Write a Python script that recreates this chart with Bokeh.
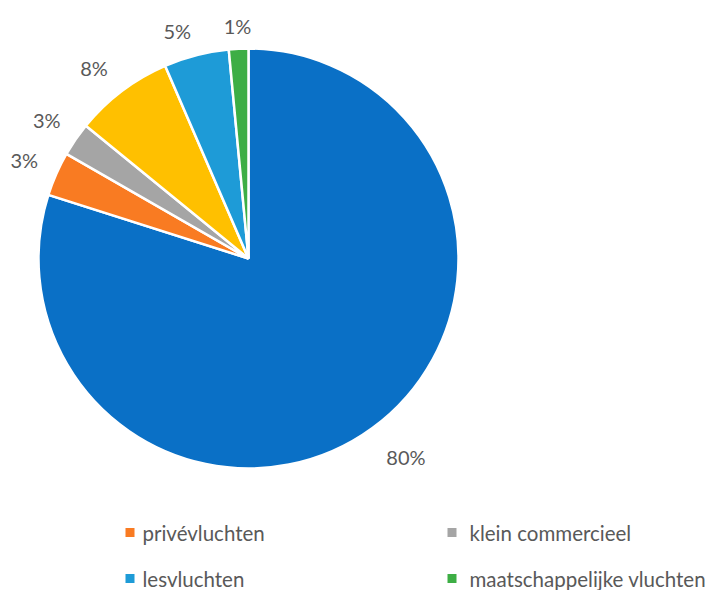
import numpy as np
from bokeh.plotting import figure
from bokeh.models import ColumnDataSource, Range1d
from bokeh.core.properties import value
from bokeh.embed import file_html
from bokeh.resources import INLINE

# ---- data ----
slice_values = [79.9, 3.4, 2.6, 7.6, 5.0, 1.5]
slice_labels = ["80%", "3%", "3%", "8%", "5%", "1%"]
slice_colors = ["#0A70C6", "#F97B22", "#A5A5A5", "#FFC000", "#1E9BD7", "#3DAE45"]
legend_names = ["privévluchten", "klein commercieel", "lesvluchten", "maatschappelijke vluchten"]
legend_colors = ["#F97B22", "#A5A5A5", "#1E9BD7", "#3DAE45"]

# ---- layout ----
W, H = 712, 590
CX, CY, R = 248, 332, 210
LABEL_R = [253, 245, 245, 245, 238, 233]
LABEL_DA = [-2.3, 0, 0, -2.0, -3.0, 0]   # degrees nudge of label placement
FONT = "Lato"
TXT = "#595959"

vals = np.array(slice_values, dtype=float)
frac = vals / vals.sum()
cum_end = np.cumsum(frac)
cum_start = cum_end - frac
theta_s = 2 * np.pi * cum_start
theta_e = 2 * np.pi * cum_end
theta_m = (theta_s + theta_e) / 2 + np.radians(LABEL_DA)
lr = np.array(LABEL_R, dtype=float)

src = ColumnDataSource(dict(
    start=np.pi / 2 - theta_e,
    end=np.pi / 2 - theta_s,
    color=slice_colors,
    lx=CX + lr * np.sin(theta_m),
    ly=CY + lr * np.cos(theta_m),
    label=slice_labels,
))

p = figure(width=W, height=H, output_backend="svg", toolbar_location=None,
           x_range=Range1d(0, W), y_range=Range1d(0, H), min_border=0,
           background_fill_color="white", border_fill_color="white")
p.axis.visible = False
p.grid.visible = False
p.outline_line_color = None

p.wedge(x=CX, y=CY, radius=R, start_angle="start", end_angle="end",
        fill_color="color", line_color="white", line_width=2.5, source=src)
p.text(x="lx", y="ly", text="label", source=src, text_font=value(FONT),
       text_font_size="20px", text_color=TXT, text_align="center",
       text_baseline="middle")

# legend (2 columns)
col_sq_x = [129.5, 451.5]
col_tx_x = [142, 469]
row_y = [58, 12]
lg_x = [col_sq_x[i % 2] for i in range(len(legend_names))]
lg_tx = [col_tx_x[i % 2] for i in range(len(legend_names))]
lg_y = [row_y[i // 2] for i in range(len(legend_names))]
lsrc = ColumnDataSource(dict(x=lg_x, y=lg_y, tx=lg_tx,
                             name=legend_names, color=legend_colors))
p.scatter(x="x", y="y", marker="square", size=9, fill_color="color",
          line_color=None, source=lsrc)
p.text(x="tx", y="y", text="name", source=lsrc, text_font=value(FONT),
       text_font_size="20.5px", text_color=TXT, text_align="left",
       text_baseline="middle")

open("out.html", "w").write(file_html(p, INLINE))
